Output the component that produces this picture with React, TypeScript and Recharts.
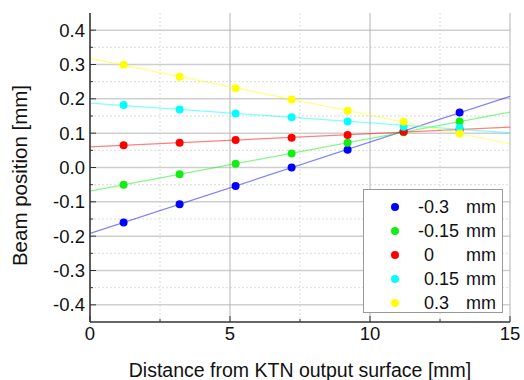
import React from 'react';
import { ComposedChart, Scatter, Line, XAxis, YAxis, CartesianGrid, Legend, Label } from 'recharts';

// distance from KTN output surface [mm]
const distanceMm = [1.2, 3.2, 5.2, 7.2, 9.2, 11.2, 13.2];

// beam position [mm] for each initial offset
const beamMinus030 = [-0.16, -0.107, -0.054, 0.0, 0.052, 0.105, 0.16];
const beamMinus015 = [-0.05, -0.02, 0.011, 0.041, 0.072, 0.103, 0.134];
const beamZero = [0.065, 0.072, 0.08, 0.087, 0.095, 0.104, 0.11];
const beamPlus015 = [0.182, 0.169, 0.157, 0.146, 0.134, 0.119, 0.115];
const beamPlus030 = [0.299, 0.264, 0.231, 0.198, 0.165, 0.133, 0.099];

const seriesLabels = ['-0.3', '-0.15', '0', '0.15', '0.3'];
const seriesUnit = 'mm';

const xDomain = [0, 15];
const yDomain = [-0.45, 0.45];
const xMajorTicks = [0, 5, 10, 15];
const xMinorTicks = [2.5, 7.5, 12.5];
const yMajorTicks = [-0.4, -0.3, -0.2, -0.1, 0, 0.1, 0.2, 0.3, 0.4];
const yMinorTicks = [-0.35, -0.25, -0.15, -0.05, 0.05, 0.15, 0.25, 0.35];

const FONT = "Arial, 'Liberation Sans', sans-serif";
const AXIS_COLOR = '#333';
const TICK_GAP = 5;

const series = [
  { label: seriesLabels[0], values: beamMinus030, color: '#0000ff' },
  { label: seriesLabels[1], values: beamMinus015, color: '#11ee11' },
  { label: seriesLabels[2], values: beamZero, color: '#ff0000' },
  { label: seriesLabels[3], values: beamPlus015, color: '#00ffff' },
  { label: seriesLabels[4], values: beamPlus030, color: '#ffff00' },
];

// least squares fit drawn across the full x range
const fitLine = (xs: number[], ys: number[]) => {
  const n = xs.length;
  const mx = xs.reduce((a, b) => a + b, 0) / n;
  const my = ys.reduce((a, b) => a + b, 0) / n;
  let sxy = 0;
  let sxx = 0;
  xs.forEach((x, i) => {
    sxy += (x - mx) * (ys[i] - my);
    sxx += (x - mx) * (x - mx);
  });
  const slope = sxy / sxx;
  const intercept = my - slope * mx;
  return xDomain.map(x => ({ x, y: intercept + slope * x }));
};

const isMajor = (v: number, list: number[]) => list.some(m => Math.abs(m - v) < 1e-9);

const LeftTick = (props: any) => {
  const { x, y, payload } = props;
  const major = isMajor(payload.value, yMajorTicks);
  const ax = x + TICK_GAP;
  return (
    <g>
      <line x1={ax} x2={ax + (major ? 6 : 3)} y1={y} y2={y} stroke={AXIS_COLOR} />
      {major && (
        <text x={x} y={y} dy="0.36em" textAnchor="end" fontSize={18.5} fontFamily={FONT} fill="#111">
          {payload.value.toFixed(1)}
        </text>
      )}
    </g>
  );
};

const RightTick = (props: any) => {
  const { x, y, payload } = props;
  const major = isMajor(payload.value, yMajorTicks);
  return <line x1={x} x2={x - (major ? 6 : 3)} y1={y} y2={y} stroke={AXIS_COLOR} />;
};

const BottomTick = (props: any) => {
  const { x, y, payload } = props;
  const major = isMajor(payload.value, xMajorTicks);
  const ay = y - TICK_GAP;
  return (
    <g>
      <line x1={x} x2={x} y1={ay} y2={ay - (major ? 6 : 3)} stroke={AXIS_COLOR} />
      {major && (
        <text x={x} y={y} dy="0.72em" textAnchor="middle" fontSize={18.5} fontFamily={FONT} fill="#111">
          {payload.value}
        </text>
      )}
    </g>
  );
};

const TopTick = (props: any) => {
  const { x, y, payload } = props;
  const major = isMajor(payload.value, xMajorTicks);
  return <line x1={x} x2={x} y1={y} y2={y + (major ? 6 : 3)} stroke={AXIS_COLOR} />;
};

const LegendBox = () => (
  <div
    style={{
      width: 140,
      height: 124,
      boxSizing: 'border-box',
      border: '1px solid #999',
      background: '#fff',
      fontFamily: FONT,
      fontSize: 18,
      color: '#111',
      position: 'relative',
    }}
  >
    {series.map((s, i) => (
      <div key={s.label} style={{ position: 'absolute', top: 5 + i * 24, left: 0, right: 0, height: 24, lineHeight: '24px' }}>
        <span
          style={{ position: 'absolute', left: 27, top: 8, width: 8, height: 8, borderRadius: '50%', background: s.color }}
        />
        <span style={{ position: 'absolute', left: s.label.startsWith('-') ? 54 : 60 }}>{s.label}</span>
        <span style={{ position: 'absolute', right: 6 }}>{seriesUnit}</span>
      </div>
    ))}
  </div>
);

const YTitle = (props: any) => {
  const { viewBox } = props;
  const cx = viewBox.x + 20;
  const cy = viewBox.y + viewBox.height / 2 + 8;
  return (
    <text
      x={cx}
      y={cy}
      dy="0.36em"
      transform={`rotate(-90, ${cx}, ${cy})`}
      textAnchor="middle"
      fontSize={20.5}
      fontFamily={FONT}
      fill="#111"
    >
      Beam position [mm]
    </text>
  );
};

export default function App() {
  const allX = [...xMajorTicks, ...xMinorTicks].sort((a, b) => a - b);
  const allY = [...yMajorTicks, ...yMinorTicks].sort((a, b) => a - b);

  return (
    <div style={{ position: 'absolute', left: 0, top: 0, width: 524, height: 380, background: '#fff' }}>
      <ComposedChart width={524} height={380} margin={{ top: 13, right: 14, bottom: 0, left: 0 }}>
        <CartesianGrid vertical={false} horizontalValues={yMinorTicks} stroke="#dcdcdc" strokeDasharray="2 2" />
        <CartesianGrid horizontal={false} verticalValues={xMinorTicks} stroke="#dcdcdc" strokeDasharray="2 2" />
        <CartesianGrid vertical={false} horizontalValues={yMajorTicks} stroke="#cfcfcf" strokeWidth={1.5} />
        <CartesianGrid horizontal={false} verticalValues={xMajorTicks} stroke="#b4b4b4" />
        <XAxis
          dataKey="x"
          type="number"
          domain={xDomain}
          ticks={allX}
          interval={0}
          allowDataOverflow
          height={58}
          tickSize={0}
          tickMargin={TICK_GAP}
          tick={BottomTick}
          axisLine={{ stroke: AXIS_COLOR, strokeWidth: 1.5 }}
        >
          <Label
            value="Distance from KTN output surface [mm]"
            position="insideBottom"
            offset={3}
            style={{ fontSize: 19.5, fontFamily: FONT, fill: '#111' }}
          />
        </XAxis>
        <XAxis
          xAxisId="top"
          orientation="top"
          dataKey="x"
          type="number"
          domain={xDomain}
          ticks={allX}
          interval={0}
          allowDataOverflow
          height={0}
          tickSize={0}
          tickMargin={0}
          tick={TopTick}
          axisLine={{ stroke: AXIS_COLOR, strokeWidth: 1.5 }}
        />
        <YAxis
          dataKey="y"
          type="number"
          domain={yDomain}
          ticks={allY}
          interval={0}
          allowDataOverflow
          width={90}
          tickSize={0}
          tickMargin={TICK_GAP}
          tick={LeftTick}
          axisLine={{ stroke: AXIS_COLOR, strokeWidth: 1.5 }}
        >
          <Label content={YTitle} />
        </YAxis>
        <YAxis
          yAxisId="right"
          orientation="right"
          dataKey="y"
          type="number"
          domain={yDomain}
          ticks={allY}
          interval={0}
          allowDataOverflow
          width={0}
          tickSize={0}
          tickMargin={0}
          tick={RightTick}
          axisLine={{ stroke: AXIS_COLOR, strokeWidth: 1.5 }}
        />
        {series.map(s => (
          <Line
            key={`fit-${s.label}`}
            data={fitLine(distanceMm, s.values)}
            dataKey="y"
            type="linear"
            stroke={s.color}
            strokeOpacity={0.5}
            strokeWidth={1.2}
            dot={false}
            activeDot={false}
            legendType="none"
            isAnimationActive={false}
          />
        ))}
        {series.map(s => (
          <Scatter
            key={`pts-${s.label}`}
            name={`${s.label} ${seriesUnit}`}
            data={distanceMm.map((x, i) => ({ x, y: s.values[i] }))}
            fill={s.color}
            shape={(p: any) => <circle cx={p.cx} cy={p.cy} r={4} fill={s.color} />}
            isAnimationActive={false}
          />
        ))}
        <Legend
          layout="vertical"
          align="center"
          verticalAlign="middle"
          content={LegendBox}
          wrapperStyle={{ left: 363, top: 189, width: 140, height: 124 }}
        />
      </ComposedChart>
    </div>
  );
}
